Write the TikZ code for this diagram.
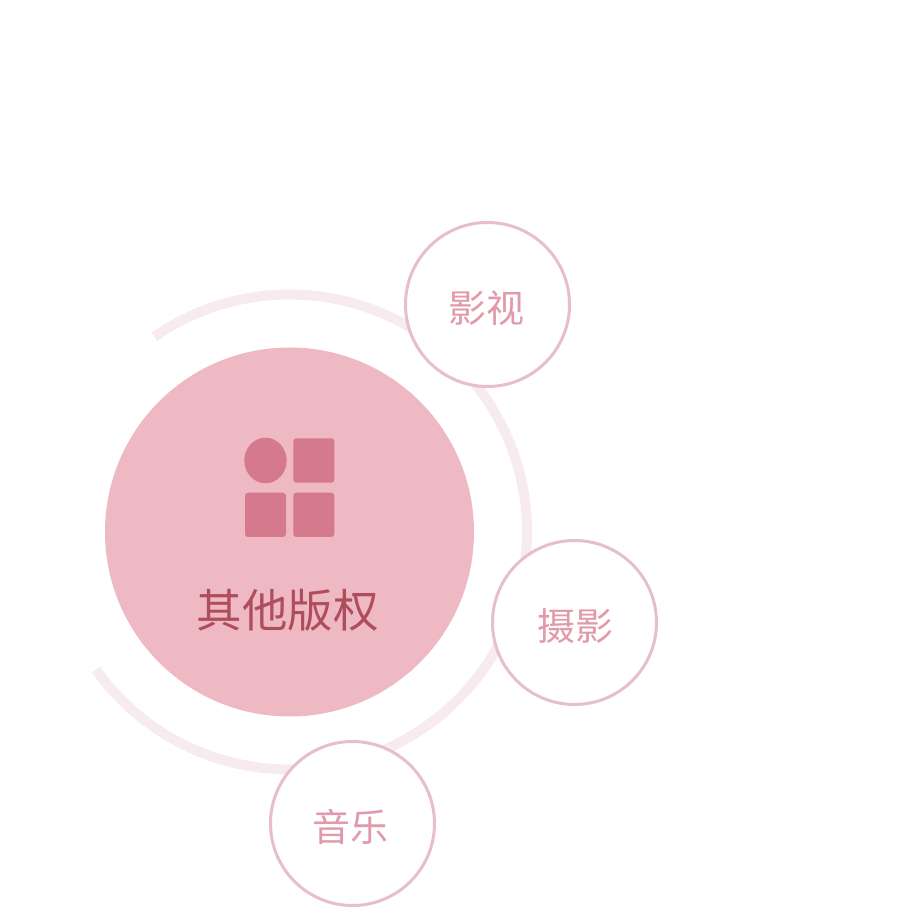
\documentclass[tikz,border=0pt]{standalone}
\usepackage{fontspec}
\newfontfamily\cjk{Noto Sans CJK SC}
\definecolor{ringpink}{HTML}{F7EBEF}
\definecolor{mainpink}{HTML}{EFB9C4}
\definecolor{iconpink}{HTML}{D57A8C}
\definecolor{titlered}{HTML}{AE4D5B}
\definecolor{edgepink}{HTML}{E6BFCA}
\definecolor{labelpink}{HTML}{E09AAB}
\tikzset{
  bubble/.style={circle,draw=edgepink,line width=3pt,fill=white,minimum size=164pt,inner sep=0pt},
  bubbletext/.style={text=labelpink,font=\cjk\fontsize{38}{38}\selectfont},
  tile/.style={fill=iconpink,rounded corners=3pt},
}
\begin{document}
\begin{tikzpicture}[x=1pt,y=1pt]
\useasboundingbox (0,0) rectangle (918,918);

\coordinate (hub) at (289.5,386);
\draw[ringpink,line width=10pt] (hub)+(124.7:237.5) arc[start angle=124.7,end angle=-144.6,radius=237.5];
\fill[mainpink] (hub) circle[radius=184.5];

\fill[iconpink] (265.5,457.5) ellipse[x radius=21.2,y radius=22.8];
\fill[tile] (293.3,435.3) rectangle (334.3,479.7);
\fill[tile] (245,381) rectangle (286,425.3);
\fill[tile] (293.3,381) rectangle (334.3,425.3);

\node[text=titlered,font=\cjk\fontsize{45.5}{45.5}\selectfont] (title) at (287.5,308) {其他版权};

\node[bubble] (film) at (487.5,613.5) {};
\node[bubble] (photo) at (574.5,295.5) {};
\node[bubble] (music) at (352.5,94.5) {};

\node[bubbletext] (filmtext) at ([shift={(-1.5,-3.5)}]film.center) {影视};
\node[bubbletext] (phototext) at ([shift={(0.5,-3.5)}]photo.center) {摄影};
\node[bubbletext] (musictext) at ([shift={(-2,-3.5)}]music.center) {音乐};
\end{tikzpicture}
\end{document}
